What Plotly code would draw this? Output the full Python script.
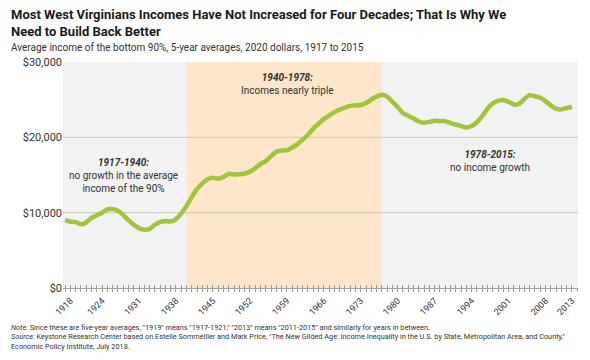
import plotly.graph_objects as go

years = list(range(1917, 2014))
income = [
    9050, 8800, 8750, 8450, 8700, 9300, 9650, 10000, 10450, 10500,
    10250, 9700, 9000, 8400, 7950, 7750, 7850, 8400, 8750, 8850,
    8850, 9150, 9900, 10900, 12100, 13150, 13900, 14450, 14650, 14500,
    14750, 15150, 15050, 15100, 15200, 15450, 15900, 16450, 16850, 17500,
    18100, 18250, 18300, 18650, 19100, 19700, 20350, 21150, 21800, 22450,
    22900, 23350, 23700, 23950, 24150, 24250, 24300, 24550, 25000, 25400,
    25650, 25400, 24700, 24000, 23200, 22850, 22500, 22100, 21950, 22050,
    22200, 22150, 22150, 21900, 21700, 21500, 21300, 21500, 22000, 22800,
    23800, 24500, 24850, 24950, 24700, 24350, 24450, 25100, 25600, 25450,
    25250, 24800, 24250, 23800, 23700, 23900, 24050,
]

x_tick_years = [1918, 1924, 1931, 1938, 1945, 1952, 1959, 1966, 1973, 1980,
                1987, 1994, 2001, 2008, 2013]
y_tick_values = [0, 10000, 20000, 30000]
y_tick_labels = ["$0", "$10,000", "$20,000", "$30,000"]
grid_values = [10000, 20000]
growth_period = [1940, 1977]

TEXT = "#333333"
FONT = "Roboto, Lato, sans-serif"

fig = go.Figure()
fig.add_trace(go.Scatter(
    x=years, y=income, mode="lines",
    line=dict(color="#a2c43c", width=4.5, shape="spline", smoothing=0.5),
    hoverinfo="skip", showlegend=False,
))
# invisible trace to carry the second (tick) axis
fig.add_trace(go.Scatter(
    x=years, y=income, mode="lines", xaxis="x2",
    line=dict(color="rgba(0,0,0,0)", width=0),
    hoverinfo="skip", showlegend=False,
))

xrange = [1916.6, 2014.15]

fig.add_shape(type="rect", xref="x", yref="paper",
              x0=growth_period[0], x1=growth_period[1], y0=0, y1=1,
              fillcolor="#fde6c9", line=dict(width=0), layer="below")
for g in grid_values:
    fig.add_shape(type="line", xref="paper", yref="y", x0=0, x1=1, y0=g, y1=g,
                  line=dict(color="#c8c8c8", width=1), layer="below")

fig.update_layout(
    width=590, height=360,
    margin=dict(l=63, r=12, t=62, b=72, autoexpand=False),
    paper_bgcolor="white", plot_bgcolor="#f2f2f2",
    font=dict(family=FONT, color=TEXT),
    xaxis=dict(
        range=xrange, tickmode="array", tickvals=x_tick_years,
        ticktext=[str(v) for v in x_tick_years],
        tickangle=-45, tickfont=dict(size=9, color=TEXT),
        ticks="outside", ticklen=3, tickcolor="#999999",
        showline=True, linecolor="#a0a0a0", linewidth=1,
        showgrid=False, zeroline=False, automargin=False,
        minor=dict(tickmode="linear", tick0=1917, dtick=1, ticks="outside",
                   ticklen=3, tickcolor="#999999"),
    ),
    xaxis2=dict(
        range=xrange, overlaying="x", side="bottom", anchor="y",
        tickmode="linear", tick0=1917, dtick=1, ticks="inside", ticklen=3,
        tickcolor="#999999", showticklabels=False, showgrid=False,
        zeroline=False, showline=False, automargin=False,
    ),
    yaxis=dict(
        range=[0, 30000], tickmode="array", tickvals=y_tick_values,
        ticktext=y_tick_labels, tickfont=dict(size=11, color=TEXT),
        showgrid=False, zeroline=False, showline=False, ticks="",
        automargin=False,
    ),
)

def px_to_paper_y(py):
    return (288.3 - py) / 226.3

def px_to_paper_x(px):
    return (px - 63) / 515

fig.add_annotation(
    xref="paper", yref="paper", x=px_to_paper_x(9), y=px_to_paper_y(5),
    xanchor="left", yanchor="top", align="left", showarrow=False,
    text="<b>Most West Virginians Incomes Have Not Increased for Four Decades; That Is Why We<br>Need to Build Back Better</b>",
    font=dict(size=13, color="#1a1a1a", family=FONT),
)
fig.add_annotation(
    xref="paper", yref="paper", x=px_to_paper_x(9), y=px_to_paper_y(47),
    xanchor="left", yanchor="middle", align="left", showarrow=False,
    text="Average income of the bottom 90%, 5-year averages, 2020 dollars, 1917 to 2015",
    font=dict(size=10, color=TEXT, family=FONT),
)
fig.add_annotation(
    xref="x", yref="y", x=1928, y=17600, yanchor="top", showarrow=False,
    text="<b><i>1917-1940:</i></b><br>no growth in the average<br>income of the 90%",
    font=dict(size=10, color=TEXT, family=FONT),
)
fig.add_annotation(
    xref="x", yref="y", x=1959.2, y=28900, yanchor="top", showarrow=False,
    text="<b><i>1940-1978:</i></b><br>Incomes nearly triple",
    font=dict(size=10, color=TEXT, family=FONT),
)
fig.add_annotation(
    xref="x", yref="y", x=1997.5, y=18700, yanchor="top", showarrow=False,
    text="<b><i>1978-2015:</i></b><br>no income growth",
    font=dict(size=10, color=TEXT, family=FONT),
)
fig.add_annotation(
    xref="paper", yref="paper", x=px_to_paper_x(9), y=px_to_paper_y(321),
    xanchor="left", yanchor="top", align="left", showarrow=False,
    text=("<i>Note:</i> Since these are five-year averages, \"1919\" means \"1917-1921,\" \"2013\" means \"2011-2015\" and similarly for years in between.<br>"
          "<i>Source:</i> Keystone Research Center based on Estelle Sommeiller and Mark Price, \"The New Gilded Age: Income Inequality in the U.S. by State, Metropolitan Area, and County,\"<br>"
          "Economic Policy Institute, July 2018."),
    font=dict(size=7.3, color=TEXT, family=FONT),
)

fig.write_html(
    "out.html",
    config={"displayModeBar": False},
    post_script="document.body.style.margin='0';document.body.style.overflow='hidden';",
)
